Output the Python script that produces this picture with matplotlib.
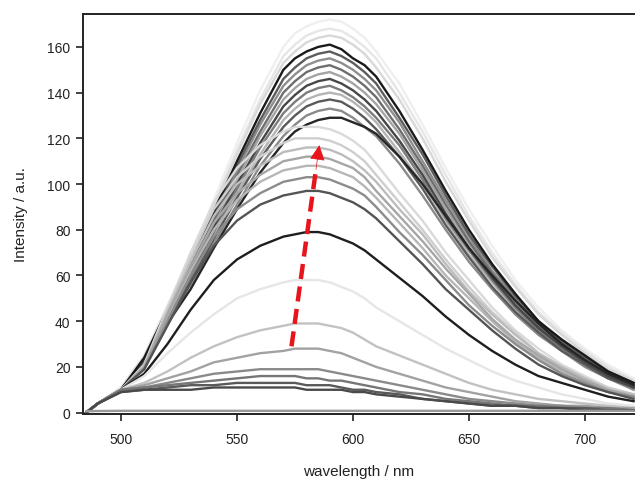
import matplotlib
matplotlib.use("Agg")
import matplotlib.pyplot as plt

plt.rcParams['font.family'] = ['Liberation Sans', 'DejaVu Sans']

# wavelength grid (nm)
wavelength = [485, 490, 500, 510, 520, 530, 540, 550, 560, 570, 575, 580, 585, 590, 595,
              600, 605, 610, 620, 630, 640, 650, 660, 670, 680, 690, 700, 710, 721]

# spectra (intensity, a.u.)
s172 = [0, 4, 11, 25, 47, 68, 93, 118, 141, 160, 166, 169, 171, 172, 171, 168, 164, 158, 144, 126, 107, 89, 73, 58, 46, 36, 28, 21, 15]
s168 = [0, 4, 11, 25, 46, 67, 91, 115, 137, 156, 161, 165, 167, 168, 167, 164, 160, 155, 140, 123, 104, 86, 70, 56, 44, 35, 27, 20, 14]
s165 = [0, 4, 10, 24, 46, 66, 90, 113, 135, 153, 158, 162, 164, 165, 164, 161, 157, 151, 137, 120, 101, 84, 68, 55, 43, 34, 26, 19, 14]
s158 = [0, 4, 10, 23, 44, 64, 86, 108, 128, 146, 151, 155, 157, 158, 156, 153, 149, 144, 129, 113, 95, 78, 64, 51, 40, 31, 24, 18, 13]
s155 = [0, 4, 10, 23, 44, 63, 85, 106, 126, 143, 148, 152, 154, 155, 153, 150, 146, 141, 127, 110, 93, 77, 62, 50, 39, 30, 24, 17, 12]
s152 = [0, 4, 10, 23, 43, 62, 84, 104, 123, 140, 145, 149, 151, 152, 150, 147, 143, 138, 124, 108, 91, 75, 61, 49, 38, 30, 23, 17, 12]
s149 = [0, 4, 10, 23, 43, 61, 82, 102, 121, 137, 142, 146, 148, 149, 147, 144, 140, 135, 122, 106, 89, 74, 60, 48, 37, 29, 23, 16, 12]
s146 = [0, 4, 10, 22, 42, 60, 81, 100, 118, 134, 139, 143, 145, 146, 144, 141, 137, 132, 119, 104, 87, 72, 59, 47, 37, 29, 22, 16, 11]
s143 = [0, 4, 10, 22, 42, 59, 79, 98, 116, 131, 136, 140, 142, 143, 141, 138, 134, 129, 117, 102, 85, 71, 58, 46, 36, 28, 22, 16, 11]
s140 = [0, 4, 10, 22, 41, 58, 78, 96, 113, 128, 133, 137, 139, 140, 139, 136, 132, 127, 114, 100, 84, 69, 57, 45, 35, 28, 21, 15, 11]
s137 = [0, 4, 10, 22, 41, 57, 76, 94, 111, 125, 130, 134, 136, 137, 136, 133, 129, 124, 112, 98, 82, 68, 55, 44, 35, 27, 21, 15, 11]
s133 = [0, 4, 10, 21, 40, 56, 74, 91, 108, 121, 126, 130, 132, 133, 132, 129, 125, 121, 109, 95, 80, 66, 54, 43, 34, 27, 20, 15, 10]
s129 = [0, 4, 10, 21, 39, 54, 72, 89, 105, 118, 123, 126, 128, 129, 129, 127, 125, 122, 112, 100, 86, 72, 60, 49, 39, 30, 23, 17, 12]
s161 = [0, 4, 10, 24, 45, 65, 88, 110, 131, 150, 155, 158, 160, 161, 159, 155, 152, 147, 132, 115, 97, 80, 65, 52, 40, 32, 25, 18, 13]

s125 = [0, 4, 10, 21, 46, 70, 92, 107, 117, 123, 125, 125, 125, 124, 122, 119, 115, 109, 96, 84, 70, 58, 46, 36, 28, 21, 16, 11, 8]
s120 = [0, 4, 10, 21, 45, 68, 89, 103, 112, 118, 120, 120, 120, 119, 117, 114, 110, 104, 92, 80, 67, 55, 44, 35, 26, 20, 15, 11, 8]
s116 = [0, 4, 10, 20, 44, 66, 86, 100, 108, 114, 115, 116, 116, 115, 113, 110, 106, 101, 89, 78, 65, 53, 43, 34, 26, 20, 15, 10, 8]
s112 = [0, 4, 10, 20, 43, 64, 83, 96, 104, 110, 111, 112, 112, 111, 109, 107, 103, 97, 86, 75, 63, 52, 41, 32, 25, 19, 14, 10, 7]
s108 = [0, 4, 10, 20, 42, 62, 80, 93, 101, 106, 107, 108, 108, 107, 105, 103, 99, 94, 83, 72, 60, 50, 40, 31, 24, 18, 14, 10, 7]
s103 = [0, 4, 10, 19, 40, 60, 77, 89, 96, 101, 102, 103, 103, 102, 100, 98, 95, 90, 79, 69, 58, 47, 38, 30, 23, 17, 13, 9, 7]
s97 = [0, 4, 10, 19, 38, 57, 73, 84, 91, 95, 96, 97, 97, 96, 94, 92, 89, 85, 75, 65, 54, 45, 36, 28, 21, 16, 12, 9, 6]
s78 = [0, 4, 10, 17, 30, 45, 58, 67, 73, 77, 78, 79, 79, 78, 76, 74, 71, 67, 59, 51, 42, 34, 27, 21, 16, 13, 10, 7, 5]

s57 = [0, 4, 10, 16, 26, 35, 43, 50, 54, 57, 58, 58, 58, 57, 55, 53, 50, 46, 40, 34, 28, 23, 18, 14, 11, 8, 6, 4, 3]
s39 = [0, 4, 10, 13, 18, 24, 29, 33, 36, 38, 39, 39, 39, 38, 37, 35, 32, 29, 25, 21, 17, 13, 10, 8, 6, 5, 4, 3, 2]
s28 = [0, 4, 10, 12, 15, 18, 22, 24, 26, 27, 28, 28, 28, 27, 26, 24, 22, 20, 17, 14, 11, 9, 7, 5, 4, 3, 3, 2, 2]
s20 = [0, 4, 10, 11, 13, 15, 17, 18, 19, 19, 19, 19, 19, 18, 17, 16, 15, 14, 12, 10, 8, 6, 5, 4, 3, 3, 2, 2, 1]
s16 = [0, 4, 10, 11, 12, 13, 14, 15, 16, 16, 16, 15, 15, 14, 14, 13, 12, 11, 9, 8, 6, 5, 4, 3, 3, 2, 2, 2, 1]
s13 = [0, 4, 9, 10, 11, 12, 12, 13, 13, 13, 13, 12, 12, 12, 11, 10, 10, 9, 8, 6, 5, 4, 3, 3, 2, 2, 2, 1, 1]
s11 = [0, 4, 9, 10, 10, 10, 11, 11, 11, 11, 11, 10, 10, 10, 10, 9, 9, 8, 7, 6, 5, 4, 3, 3, 2, 2, 1, 1, 1]
s0 = [0.6, 0.7, 0.8, 0.8, 0.8, 0.8, 0.8, 0.8, 0.8, 0.8, 0.8, 0.8, 0.8, 0.8, 0.8,
      0.8, 0.8, 0.8, 0.8, 0.8, 0.8, 0.8, 0.8, 0.8, 0.8, 0.8, 0.8, 0.8, 0.8]

series = [s172, s168, s165, s149, s140, s155, s133, s143, s152, s137, s158, s146, s129, s161,
          s125, s120, s116, s108, s112, s103, s97, s78,
          s57, s39, s28, s20, s16, s13, s11, s0]
greys = ['#efefef', '#e6e6e6', '#d8d8d8', '#a4a4a4', '#b4b4b4', '#8e8e8e', '#8a8a8a', '#7c7c7c',
         '#6e6e6e', '#5a5a5a', '#5c5c5c', '#464646', '#262626', '#1a1a1a',
         '#dadada', '#cecece', '#bcbcbc', '#b6b6b6', '#a6a6a6', '#8c8c8c', '#545454', '#1e1e1e',
         '#e6e6e6', '#c2c2c2', '#a2a2a2', '#8a8a8a', '#767676', '#5a5a5a', '#4a4a4a', '#9a9a9a']

# arrow (start and tip in data coordinates)
arrow_start = (573.5, 29)
arrow_tip = (585.5, 117)

fig = plt.figure(figsize=(6.35, 4.81), dpi=100)
ax = fig.add_axes([83 / 635, 1 - 415 / 481, 1 - 83 / 635, (415 - 15) / 481])

for ys, c in zip(series, greys):
    ax.plot(wavelength, ys, color=c, lw=1.7, solid_joinstyle='round')

# dashed red arrow
frac = 0.88
mid = (arrow_start[0] + frac * (arrow_tip[0] - arrow_start[0]),
       arrow_start[1] + frac * (arrow_tip[1] - arrow_start[1]))
ax.plot([arrow_start[0], mid[0]], [arrow_start[1], mid[1]], color='#e8141c',
        lw=3.2, linestyle=(0, (3.4, 1.7)), solid_capstyle='butt', zorder=5)
ax.annotate('', xy=arrow_tip, xytext=mid,
            arrowprops=dict(arrowstyle='-|>', color='#e8141c', lw=0.5,
                            mutation_scale=24, shrinkA=0, shrinkB=0), zorder=6)

ax.set_xlim(483.6, 721.6)
ax.set_ylim(-0.6, 174.4)
ax.set_xticks([500, 550, 600, 650, 700])
ax.set_yticks([0, 20, 40, 60, 80, 100, 120, 140, 160])
ax.tick_params(direction='out', length=5, width=1.2, labelsize=10, colors='#222222')
ax.tick_params(axis='x', pad=8)
ax.tick_params(axis='y', pad=4)
for s in ['top', 'left', 'bottom']:
    ax.spines[s].set_linewidth(1.4)
    ax.spines[s].set_color('#222222')
ax.spines['right'].set_visible(False)

ax.set_xlabel('wavelength / nm', fontsize=11, color='#222222', labelpad=13)
ax.set_ylabel('Intensity / a.u.', fontsize=11, color='#222222', labelpad=14)

fig.savefig('out.png', dpi=100)
